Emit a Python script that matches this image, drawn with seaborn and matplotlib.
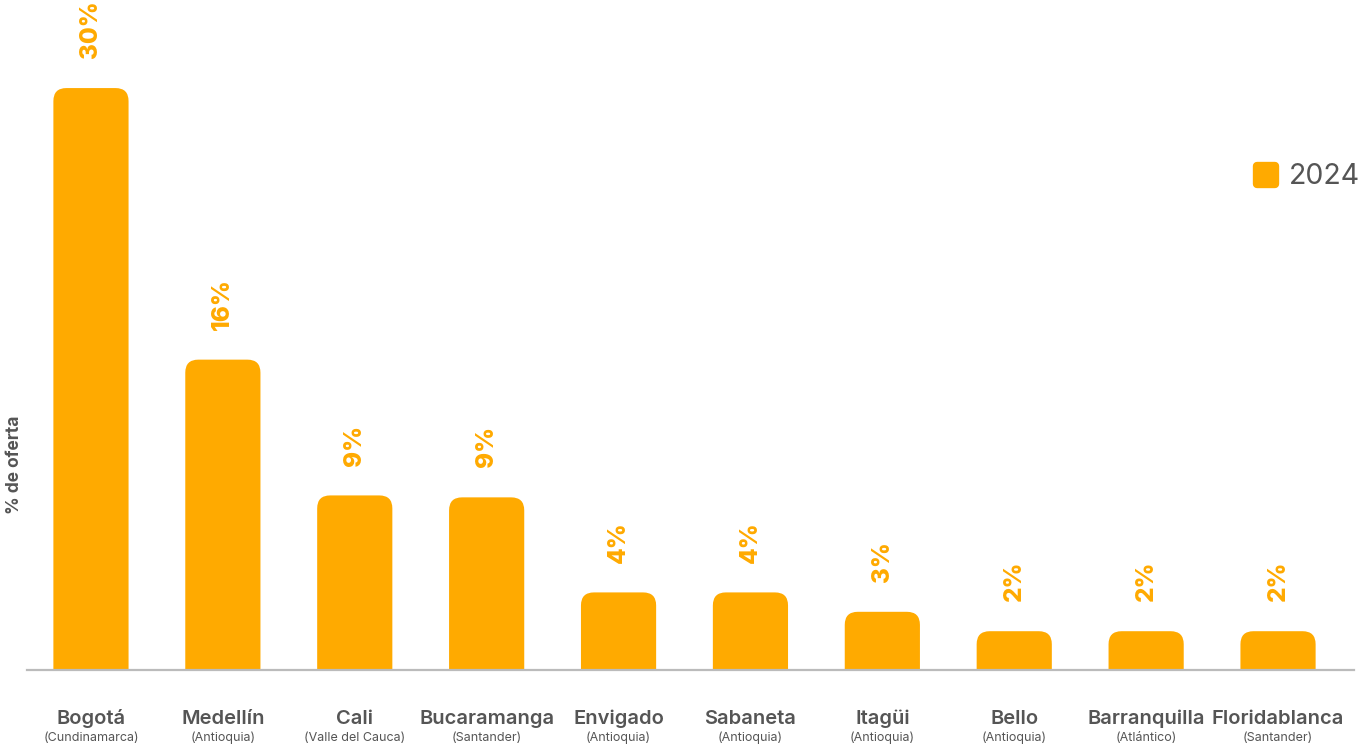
import numpy as np
import pandas as pd
import seaborn as sns
import matplotlib
matplotlib.use("Agg")
import matplotlib.pyplot as plt
from matplotlib.patches import FancyBboxPatch
from matplotlib.lines import Line2D
from matplotlib.markers import MarkerStyle
import matplotlib.transforms as mtransforms

# ---- data ----
cities = ["Bogotá", "Medellín", "Cali", "Bucaramanga", "Envigado", "Sabaneta",
          "Itagüi", "Bello", "Barranquilla", "Floridablanca"]
departments = ["(Cundinamarca)", "(Antioquia)", "(Valle del Cauca)", "(Santander)",
               "(Antioquia)", "(Antioquia)", "(Antioquia)", "(Antioquia)",
               "(Atlántico)", "(Santander)"]
values = [30.0, 16.0, 9.0, 8.9, 4.0, 4.0, 3.0, 2.0, 2.0, 2.0]
series_name = "2024"
ylabel = "% de oferta"

ORANGE = "#FFAA00"
GRAY = "#555555"

sns.set_theme(style="white")
plt.rcParams["font.family"] = ["Inter", "DejaVu Sans"]

df = pd.DataFrame({"city": cities, "value": values})

fig = plt.figure(figsize=(13.69, 7.47), dpi=100)
ax = fig.add_axes([27 / 1369, 77 / 747, 1327 / 1369, 670 / 747])

sns.barplot(data=df, x="city", y="value", color=ORANGE, width=0.57,
            saturation=1, ax=ax)

ax.set_xlim(-0.485, 9.576)
ax.set_ylim(0, 34.54)

# rounded tops
fig.canvas.draw()
x_per_px = (ax.get_xlim()[1] - ax.get_xlim()[0]) / ax.bbox.width
y_per_px = (ax.get_ylim()[1] - ax.get_ylim()[0]) / ax.bbox.height
aspect = y_per_px / x_per_px
r_px = 13
r_x = r_px * x_per_px
r_y = r_px * y_per_px
for p in list(ax.patches):
    x, w, h = p.get_x(), p.get_width(), p.get_height()
    p.remove()
    fb = FancyBboxPatch((x, -r_y), w, h + r_y,
                        boxstyle=f"round,pad=0,rounding_size={r_x}",
                        mutation_aspect=aspect, facecolor=ORANGE,
                        edgecolor="none", clip_on=True)
    ax.add_patch(fb)
    fb.set_clip_path(ax.patch)

# value labels
for i, v in enumerate(values):
    ax.annotate(f"{v:.0f}%", xy=(i, v), xytext=(0, 21.5), textcoords="offset points",
                rotation=90, ha="center", va="bottom", color=ORANGE,
                fontsize=17.5, fontweight="heavy")

# x labels
ax.set_xticks(range(len(cities)))
ax.set_xticklabels([])
ax.tick_params(axis="x", length=0)
trans = mtransforms.blended_transform_factory(ax.transData, ax.transAxes)
for i, (c, d) in enumerate(zip(cities, departments)):
    ax.annotate(c, xy=(i, 0), xycoords=trans, xytext=(0, -49 * 0.72),
                textcoords="offset points", ha="center", va="center",
                fontsize=14.5, fontweight="semibold", color=GRAY)
    ax.annotate(d, xy=(i, 0), xycoords=trans, xytext=(0, -68 * 0.72),
                textcoords="offset points", ha="center", va="center",
                fontsize=9, color=GRAY)

ax.set_xlabel("")
ax.set_yticks([])
ax.set_ylabel(ylabel, fontsize=12.5, fontweight="bold", color=GRAY)
ax.yaxis.set_label_coords(-4 / 1327, 205 / 670)

for s in ["top", "right", "left"]:
    ax.spines[s].set_visible(False)
ax.spines["bottom"].set_color("#BBBBBB")
ax.spines["bottom"].set_linewidth(1.6)

handle = Line2D([], [], linestyle="none",
                marker=MarkerStyle("s", joinstyle="round"),
                markersize=13, markerfacecolor=ORANGE, markeredgecolor=ORANGE,
                markeredgewidth=6)
leg = ax.legend([handle], [series_name], loc="center left",
                bbox_to_anchor=((1252 - 27) / 1327, (670 - 177) / 670),
                frameon=False, fontsize=20.5, handlelength=0.95,
                handletextpad=0.35, borderpad=0, borderaxespad=0)
for t in leg.get_texts():
    t.set_color(GRAY)

fig.savefig("out.png", dpi=100)
